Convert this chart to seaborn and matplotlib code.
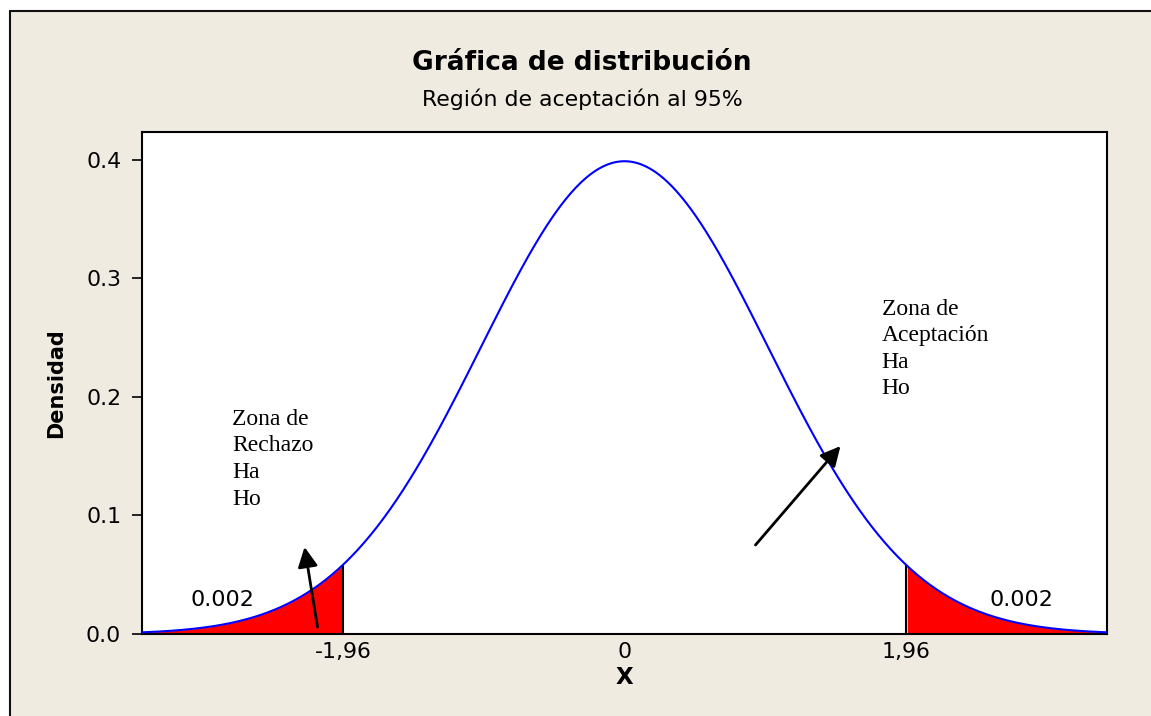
import numpy as np
import pandas as pd
import matplotlib
matplotlib.use("Agg")
import matplotlib.pyplot as plt
from matplotlib.lines import Line2D
import seaborn as sns

# ---- data ----
mean = 0.0
sd = 1.0
crit = 1.96
x_ticks = [-1.96, 0.0, 1.96]
x_tick_labels = ["-1,96", "0", "1,96"]
y_ticks = [0.0, 0.1, 0.2, 0.3, 0.4]
y_tick_labels = ["0.0", "0.1", "0.2", "0.3", "0.4"]
tail_labels = ["0.002", "0.002"]
left_note = "Zona de\nRechazo\nHa\nHo"
right_note = "Zona de\nAceptación\nHa\nHo"
title = "Gráfica de distribución"
subtitle = "Región de aceptación al 95%"

xs = np.linspace(-3.36, 3.36, 600)
dens = np.exp(-0.5 * ((xs - mean) / sd) ** 2) / (sd * np.sqrt(2 * np.pi))
df = pd.DataFrame({"X": xs, "Densidad": dens})

sns.set_theme(style="white")
plt.rcParams["font.family"] = ["DejaVu Sans"]

W, H = 1151, 716
fig = plt.figure(figsize=(W / 100, H / 100), dpi=100)
fig.patch.set_facecolor("white")

# beige panel with top/left border
panel = plt.Rectangle((10 / W, 0), 1 - 10 / W, 1 - 11 / H, transform=fig.transFigure,
                      facecolor="#EFEBE1", edgecolor="none", zorder=-2)
fig.patches.append(panel)
fig.add_artist(Line2D([10 / W, 1], [1 - 11 / H, 1 - 11 / H], transform=fig.transFigure, color="#111111", lw=1.5))
fig.add_artist(Line2D([10 / W, 10 / W], [0, 1 - 11 / H], transform=fig.transFigure, color="#111111", lw=1.5))

L, R, T, B = 142, 1107, 132, 634
ax = fig.add_axes([L / W, 1 - B / H, (R - L) / W, (B - T) / H])
ax.set_facecolor("white")

# tails
left_mask = xs <= -crit
right_mask = xs >= crit
ax.fill_between(xs[left_mask], 0, dens[left_mask], color="#FF0000", lw=0, zorder=1)
ax.fill_between(xs[right_mask], 0, dens[right_mask], color="#FF0000", lw=0, zorder=1)
ycrit = np.exp(-0.5 * crit ** 2) / np.sqrt(2 * np.pi)
ax.plot([-crit, -crit], [0, ycrit], color="black", lw=1.5, zorder=2)
ax.plot([crit, crit], [0, ycrit], color="black", lw=1.5, zorder=2)

sns.lineplot(data=df, x="X", y="Densidad", color="#0000FF", lw=1.5, ax=ax, zorder=3)

ax.set_xlim(-3.36, 3.36)
ax.set_ylim(0, 0.4236)
ax.set_xticks(x_ticks)
ax.set_xticklabels(x_tick_labels)
ax.set_yticks(y_ticks)
ax.set_yticklabels(y_tick_labels)
ax.tick_params(axis="y", direction="out", length=7, width=1.2, color="black",
               labelsize=15.8, labelcolor="black", left=True, pad=8)
ax.tick_params(axis="x", direction="out", length=0, labelsize=15.8, labelcolor="black",
               bottom=True, pad=5.5)
for s in ax.spines.values():
    s.set_visible(True)
    s.set_color("black")
    s.set_linewidth(1.5)

ax.set_xlabel("X", fontsize=16.5, fontweight="bold", color="black", labelpad=3.5)
ax.set_ylabel("Densidad", fontsize=15, fontweight="bold", color="black", labelpad=14)

# tail area labels
ax.text(-2.80, 0.0287, tail_labels[0], fontsize=16, ha="center", va="center", color="black")
ax.text(2.765, 0.0287, tail_labels[1], fontsize=16, ha="center", va="center", color="black")

# notes
ax.text(-2.73, 0.190, left_note, fontsize=17, family="Liberation Serif", ha="left", va="top",
        color="black", linespacing=1.35)
ax.text(1.79, 0.283, right_note, fontsize=17, family="Liberation Serif", ha="left", va="top",
        color="black", linespacing=1.35)

# arrows
arrow_style = dict(arrowstyle="-|>,head_width=0.4,head_length=0.8", color="black", lw=2,
                   mutation_scale=15, shrinkA=0, shrinkB=0)
ax.annotate("", xy=(-2.228, 0.0734), xytext=(-2.138, 0.0059), arrowprops=arrow_style, zorder=5)
ax.annotate("", xy=(1.504, 0.1586), xytext=(0.912, 0.0751), arrowprops=arrow_style, zorder=5)

fig.text(582 / W, 1 - 63 / H, title, fontsize=19, fontweight="bold", ha="center", va="center", color="black")
fig.text(582 / W, 1 - 99 / H, subtitle, fontsize=15.8, ha="center", va="center", color="black")

fig.savefig("out.png", dpi=100)
